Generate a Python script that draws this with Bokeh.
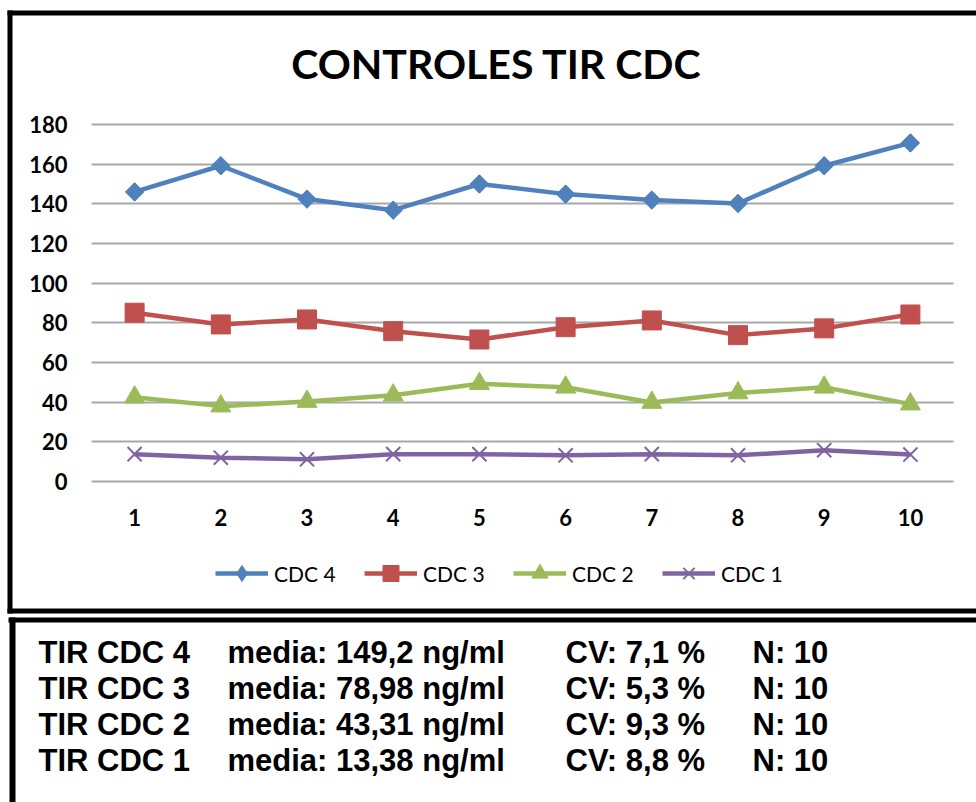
import math
from bokeh.plotting import figure
from bokeh.models import (Range1d, FixedTicker, Label, Legend, LegendItem,
                          BoxAnnotation, Grid, LinearAxis)
from bokeh.embed import file_html
from bokeh.resources import INLINE

# ---------------- data ----------------
samples = [1, 2, 3, 4, 5, 6, 7, 8, 9, 10]
cdc4 = [146.0, 159.2, 142.4, 136.8, 150.0, 144.9, 141.9, 140.2, 159.2, 170.7]
cdc3 = [85.1, 79.2, 81.7, 75.8, 71.6, 77.8, 81.2, 73.8, 77.2, 84.2]
cdc2 = [42.5, 38.0, 40.3, 43.5, 49.3, 47.5, 39.8, 44.6, 47.5, 39.0]
cdc1 = [13.8, 12.0, 11.2, 13.8, 13.8, 13.2, 13.8, 13.2, 15.8, 13.6]
y_ticks = [0, 20, 40, 60, 80, 100, 120, 140, 160, 180]
title_text = "CONTROLES TIR CDC"
series_names = ["CDC 4", "CDC 3", "CDC 2", "CDC 1"]
table_names = ["TIR CDC 4", "TIR CDC 3", "TIR CDC 2", "TIR CDC 1"]
table_media = ["media: 149,2 ng/ml", "media: 78,98 ng/ml",
               "media: 43,31 ng/ml", "media: 13,38 ng/ml"]
table_cv = ["CV: 7,1 %", "CV: 5,3 %", "CV: 9,3 %", "CV: 8,8 %"]
table_n = ["N: 10", "N: 10", "N: 10", "N: 10"]

# ---------------- page geometry (px) ----------------
W, H = 976, 802
PL, PR, PT, PB = 91, 953, 124, 481      # plot area on the page
X_LO, X_HI = 0.5, 10.5                  # category edges of the plot area
Y_LO, Y_HI = 0, 180
xpx = (PR - PL) / (X_HI - X_LO)
ypx = (PB - PT) / (Y_HI - Y_LO)
x_range = Range1d(X_LO - PL / xpx, X_HI + (W - PR) / xpx)
y_range = Range1d(Y_LO - (H - PB) / ypx, Y_HI + PT / ypx)

p = figure(width=W, height=H, x_range=x_range, y_range=y_range,
           output_backend="svg", toolbar_location=None, min_border=0,
           x_axis_location=None, y_axis_location=None)
p.title.visible = False
p.outline_line_color = None
p.background_fill_color = "white"
p.border_fill_color = "white"
for g in p.grid:
    g.visible = False

xaxis = LinearAxis(ticker=FixedTicker(ticks=samples), fixed_location=Y_LO)
yaxis = LinearAxis(ticker=FixedTicker(ticks=y_ticks), fixed_location=X_LO)
for ax in (xaxis, yaxis):
    ax.axis_line_color = None
    ax.major_tick_line_color = None
    ax.minor_tick_line_color = None
    ax.major_tick_out = 0
    ax.major_tick_in = 0
    ax.major_label_text_font = "Lato"
    ax.major_label_text_font_style = "bold"
    ax.major_label_text_font_size = "22px"
    ax.major_label_text_color = "black"
xaxis.major_label_standoff = 27
yaxis.major_label_standoff = 24
p.add_layout(xaxis, "below")
p.add_layout(yaxis, "left")

grid = Grid(dimension=1, ticker=FixedTicker(ticks=y_ticks),
            grid_line_color="#a8a8a8", grid_line_width=2)
has_cross = "cross_bounds" in Grid.properties()
if has_cross:
    grid.cross_bounds = (X_LO, X_HI)
p.add_layout(grid)
if not has_cross:
    for l, r in ((0, PL), (PR, W)):
        p.add_layout(BoxAnnotation(left=l, right=r, top=H - PT + 5,
                                   bottom=H - PB - 5, left_units="screen",
                                   right_units="screen", top_units="screen",
                                   bottom_units="screen", fill_color="white",
                                   fill_alpha=1, line_color=None,
                                   level="underlay"))

colors = ["#4F81BD", "#C0504D", "#9BBB59", "#8064A2"]
series = [cdc4, cdc3, cdc2, cdc1]
items = []
for name, vals, col in zip(series_names, series, colors):
    lr = p.line(samples, vals, line_width=4.5, line_color=col)
    if name == "CDC 4":
        # narrow diamond (shown in the legend), covered in the plot by a
        # square diamond of the same colour
        sr = p.scatter(samples, vals, marker="diamond", size=18,
                       fill_color=col, line_color=col)
        p.scatter(samples, vals, marker="square", angle=math.pi / 4,
                  size=13, fill_color=col, line_color=col)
    elif name == "CDC 3":
        sr = p.scatter(samples, vals, marker="square", size=19,
                       fill_color=col, line_color=col)
    elif name == "CDC 2":
        sr = p.scatter(samples, vals, marker="triangle", size=20,
                       fill_color=col, line_color=col)
    else:
        sr = p.scatter(samples, vals, marker="x", size=20, line_width=2,
                       line_color=col)
    items.append(LegendItem(label=name, renderers=[lr, sr]))

legend = Legend(items=items, orientation="horizontal",
                location=(215, H - 593), glyph_width=53, glyph_height=40,
                label_standoff=6, spacing=0, label_width=90, padding=0,
                margin=0, border_line_color=None, background_fill_alpha=0,
                label_text_font="Lato", label_text_font_size="21px",
                label_text_color="black")
p.add_layout(legend)

# title
p.add_layout(Label(x=496, y=H - 63, x_units="screen", y_units="screen",
                   text=title_text, text_align="center",
                   text_baseline="middle", text_font="Lato",
                   text_font_style="bold", text_font_size="41px",
                   text_color="black"))

# frame borders of the two boxes
bars = [(7, W, 10, 15), (7, 12, 10, 613), (7, W, 608, 613),
        (8, W, 617, 622), (9, 15, 617, H)]
for l, r, t, b in bars:
    p.add_layout(BoxAnnotation(left=l, right=r, top=H - t, bottom=H - b,
                               left_units="screen", right_units="screen",
                               top_units="screen", bottom_units="screen",
                               fill_color="black", fill_alpha=1,
                               line_color=None, level="overlay"))

# statistics table
col_x = [38, 227, 565, 752]
row_base = [652, 688, 724, 760]
for i in range(4):
    for cx, txt in zip(col_x, [table_names[i], table_media[i],
                               table_cv[i], table_n[i]]):
        p.add_layout(Label(x=cx, y=H - row_base[i], x_units="screen",
                           y_units="screen", text=txt, text_align="left",
                           text_baseline="alphabetic",
                           text_font="Liberation Sans", text_font_style="bold",
                           text_font_size="31px", text_color="black"))

open("out.html", "w").write(file_html(p, INLINE))
